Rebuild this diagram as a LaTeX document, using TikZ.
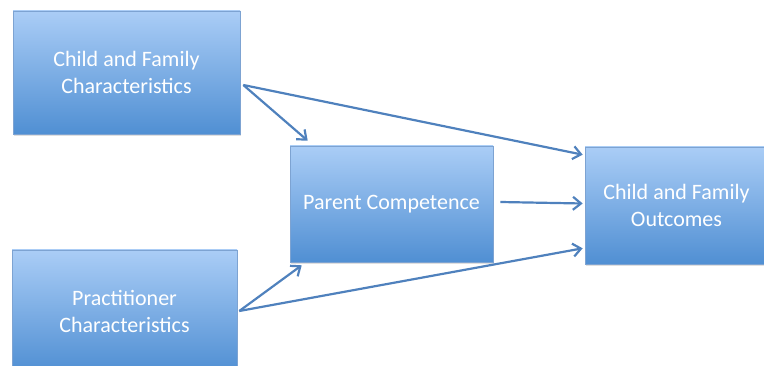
\documentclass[tikz,border=0pt]{standalone}
\usepackage{fontspec}
\setmainfont{Carlito}
\usetikzlibrary{arrows.meta,shadows}
\definecolor{boxtop}{RGB}{170,205,246}
\definecolor{boxbot}{RGB}{80,143,211}
\definecolor{boxedge}{RGB}{125,163,210}
\definecolor{arrowblue}{RGB}{79,129,189}
\begin{document}
\begin{tikzpicture}[x=1pt,y=1pt]
    \tikzstyle{box}=[draw=boxedge, line width=0.6pt, top color=boxtop, bottom color=boxbot, text=white, align=center, font=\fontsize{22}{27}\selectfont, inner sep=0pt, drop shadow={shadow xshift=1pt, shadow yshift=-2pt, opacity=0.25}]
    \tikzstyle{link}=[arrowblue, line width=2.2pt, -{Straight Barb[length=8pt,width=13pt]}]
    \useasboundingbox (0,0) rectangle (764,-366);
    \node [box, minimum width=227pt, minimum height=123pt] (cfc) at (126.5,-72.5) {Child and Family\\Characteristics};
    \node [box, minimum width=203pt, minimum height=116pt] (pc) at (391.5,-204) {Parent Competence};
    \node [box, minimum width=183pt, minimum height=117pt] (cfo) at (676.5,-205.5) {Child and Family\\Outcomes};
    \node [box, minimum width=225pt, minimum height=122pt] (prc) at (124.5,-311) {Practitioner\\Characteristics};
    \draw [link] ([xshift=3pt,yshift=-12.5pt]cfc.east) -- ([xshift=18pt,yshift=5pt]pc.north west);
    \draw [link] ([xshift=3pt,yshift=-12.5pt]cfc.east) -- ([xshift=-2pt,yshift=-8pt]cfo.north west);
    \draw [link] ([xshift=7pt,yshift=2pt]pc.east) -- ([xshift=-2pt,yshift=2pt]cfo.west);
    \draw [link] ([xshift=2pt]prc.east) -- ([xshift=12pt,yshift=-3pt]pc.south west);
    \draw [link] ([xshift=2pt]prc.east) -- ([xshift=-2pt,yshift=16pt]cfo.south west);
\end{tikzpicture}
\end{document}
